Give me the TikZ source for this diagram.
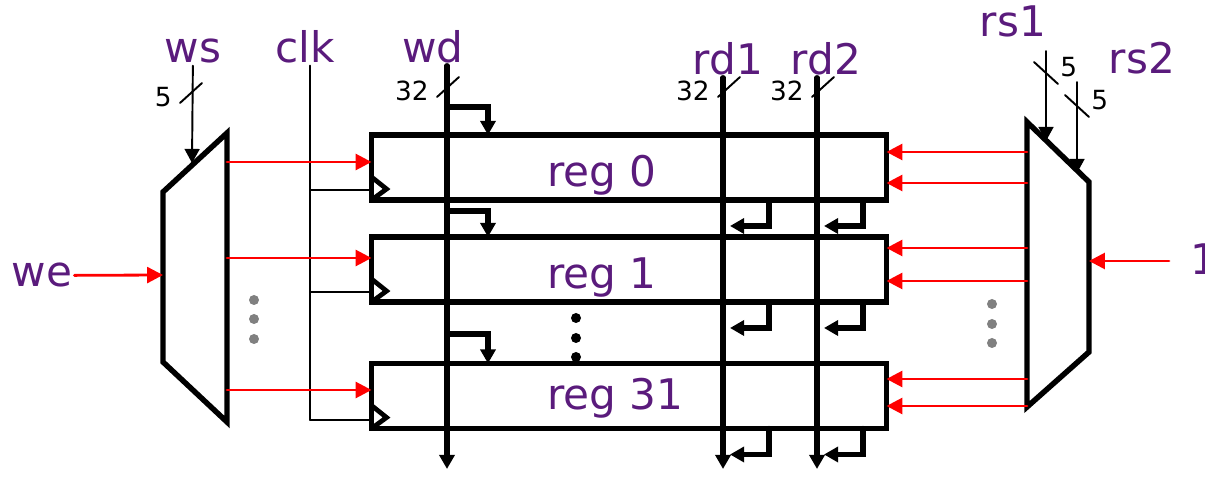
\documentclass[tikz,border=0pt]{standalone}
\usepackage{fontspec}
\setmainfont{DejaVu Sans}
\usetikzlibrary{arrows.meta,positioning,calc}
\definecolor{labpurple}{RGB}{90,27,124}

\begin{document}
\begin{tikzpicture}[x=0.02cm,y=-0.02cm,->,>={Triangle[length=8pt,width=8.5pt]},line cap=round]
\tikzstyle{reg}=[draw, -, line width=3.1pt, minimum width=10.3cm, minimum height=1.3cm, inner sep=0pt, outer sep=0pt]
\tikzstyle{lab}=[text=labpurple, font=\fontsize{24}{28}\selectfont, inner sep=1pt, anchor=base]
\tikzstyle{num}=[font=\fontsize{15}{18}\selectfont, inner sep=0pt]
\tikzstyle{bus}=[line width=3pt]
\tikzstyle{wire}=[line width=1.1pt]
\tikzstyle{en}=[red, line width=1.6pt, >={Triangle[length=9pt,width=9pt]}]
\tikzstyle{dec}=[-, line width=3.1pt, line join=miter]
\useasboundingbox (0,0) rectangle (1205,479);
% registers
\foreach \n/\y in {0/167.5,1/269.5,31/396}
    \node[reg] (r\n) at (629,\y) {};
\foreach \n/\y in {0/187,1/289,31/410}
    \node[lab, anchor=base west] (t\n) at (545,\y) {reg \n};
% labels
\node[lab] (ws) at (193,63) {ws};
\node[lab] (clk) at (305,63) {clk};
\node[lab] (wd) at (433,63) {wd};
\node[lab] (rd1) at (728,75) {rd1};
\node[lab] (rd2) at (826,75) {rd2};
\node[lab] (rs1) at (1013,37) {rs1};
\node[lab] (rs2) at (1142,74) {rs2};
\node[lab] (we) at (42,287) {we};
\node[lab, anchor=base west] (one) at (1188,275) {1};
% decoders
\draw[dec] (163,192) coordinate (wdec-a) -- (227,133) coordinate (wdec-b)
    -- (227,422) coordinate (wdec-c) -- (163,362) coordinate (wdec-d) -- cycle;
\draw[dec] (1027,122) coordinate (rdec-a) -- (1089,182) coordinate (rdec-b)
    -- (1089,352) coordinate (rdec-c) -- (1027,407) coordinate (rdec-d) -- cycle;
\coordinate (wsel) at (192,163);
\coordinate (rs1top) at (1046,51);
\coordinate (rs1in) at (1046,141);
\coordinate (rs2top) at (1077,82);
\coordinate (rs2in) at (1077,173);
\coordinate (oneout) at (1169,261);
\coordinate (clkend) at (310,420);
% select and enable inputs
\draw[wire] (ws) -- (wsel);
\draw[wire] (rs1top) -- (rs1in);
\draw[wire] (rs2top) -- (rs2in);
\draw[en] (we) -- (wdec-a |- 0,275);
\draw[en] (oneout) -- (rdec-b |- oneout);
% bus width marks
\foreach \x/\y/\t in {191/93/5,448/87/32,729/87/32,823/87/32}
       {
        \draw[wire,-] (\x-11,\y+10) -- (\x+11,\y-10);
        \node[num, anchor=east] (bw\x) at (\x-19,\y+4) {\t};
       }
\foreach \x/\y in {1046/73,1077/106}
       {
        \draw[wire,-] (\x-12,\y-11) -- (\x+12,\y+11);
        \node[num, anchor=west] (bs\x) at (\x+14,\y-6) {5};
       }
% data buses
\foreach \b/\x in {wd/447,rd1/723,rd2/817}
    \draw[bus] (\b.south -| \x,0) -- (\x,469);
\foreach \n/\y in {0/107,1/211,31/334}
    \draw[bus] (447,\y) -- (488,\y) -- (r\n.north -| 488,0);
\foreach \n in {0,1,31}
       {
        \draw[bus] (r\n.south -| 769,0) -- ++(0,26) -- ++(-39,0);
        \draw[bus] (r\n.south -| 863,0) -- ++(0,26) -- ++(-39,0);
       }
% clock
\draw[wire,-] (clk.south -| 310,0) -- (clkend);
\foreach \n/\y in {0/190,1/292,31/420}
       {
        \draw[wire,-] (310,\y) -- (r\n.west |- 0,\y);
        \draw[-, line width=2.7pt, line join=miter] (r\n.south west) ++(0,-23) -- ++(15,12) -- ++(-15,11);
       }
% enables and read selects
\foreach \n/\y in {0/162,1/258,31/390}
    \draw[en] (wdec-b |- 0,\y) -- (r\n.west |- 0,\y);
\foreach \n/\a/\b in {0/152/183,1/248/281,31/379/406}
       {
        \draw[en] (rdec-a |- 0,\a) -- (r\n.east |- 0,\a);
        \draw[en] (rdec-a |- 0,\b) -- (r\n.east |- 0,\b);
       }
% dots
\foreach \y in {300,319,339}
    \fill[gray] (254,\y) circle (0.1cm);
\foreach \y in {304,324,343}
    \fill[gray] (992,\y) circle (0.1cm);
\foreach \y in {318,338,357}
    \fill (576,\y) circle (0.1cm);
\end{tikzpicture}
\end{document}
